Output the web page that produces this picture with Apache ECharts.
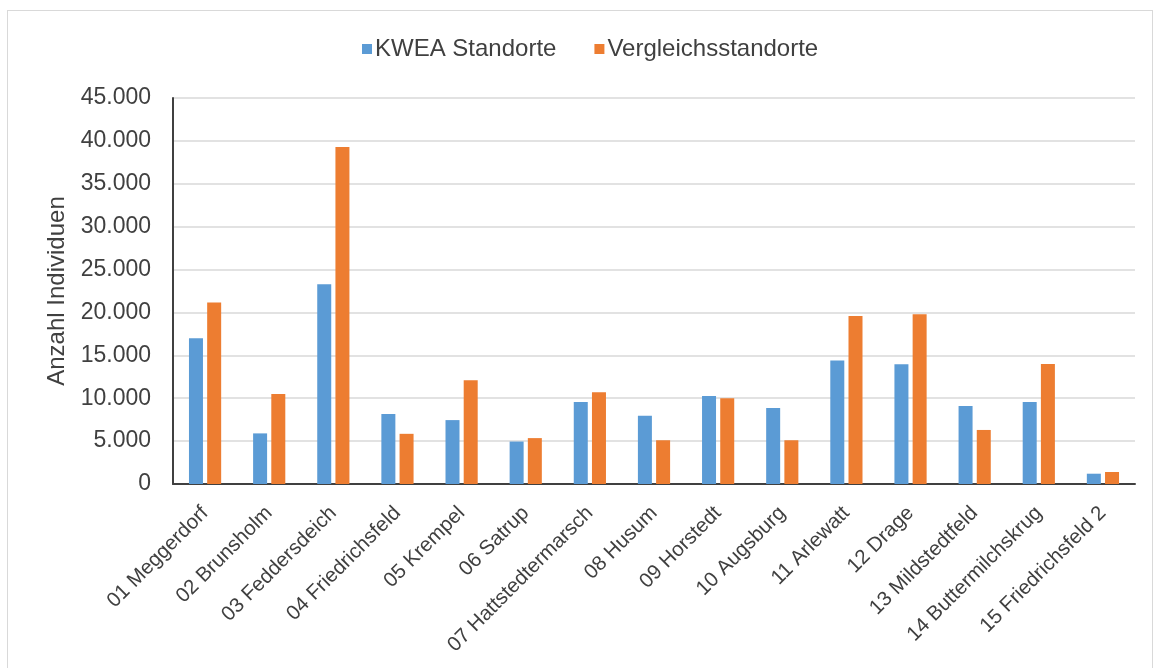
<!DOCTYPE html>
<html>
<head>
<meta charset="utf-8">
<script src="https://cdn.jsdelivr.net/npm/echarts@6/dist/echarts.min.js"></script>
<style>
  html, body { margin: 0; padding: 0; background: #fff; }
  #frame {
    position: absolute; left: 7px; top: 10px; width: 1146px; height: 660px;
    border: 1px solid #d9d9d9; box-sizing: border-box;
  }
  #chart { position: absolute; left: 0; top: 0; width: 1155px; height: 668px; }
</style>
</head>
<body>
<div id="frame"></div>
<div id="chart"></div>
<script>
// Standorte und Individuenzahlen
const standorte = [
  "01 Meggerdorf", "02 Brunsholm", "03 Feddersdeich", "04 Friedrichsfeld",
  "05 Krempel", "06 Satrup", "07 Hattstedtermarsch", "08 Husum",
  "09 Horstedt", "10 Augsburg", "11 Arlewatt", "12 Drage",
  "13 Mildstedtfeld", "14 Buttermilchskrug", "15 Friedrichsfeld 2"
];
const kwea = [17000, 5900, 23300, 8150, 7450, 4950, 9550, 7950, 10250, 8850, 14400, 13950, 9100, 9550, 1200];
const vergleich = [21150, 10500, 39300, 5850, 12100, 5350, 10700, 5100, 10000, 5100, 19600, 19800, 6300, 14000, 1400];

const myChart = echarts.init(document.getElementById("chart"));

const option = {
  backgroundColor: "transparent",
  textStyle: { fontFamily: "Liberation Sans, Arial, sans-serif" },
  legend: {
    top: 32,
    left: 357,
    itemWidth: 10,
    itemHeight: 10,
    itemGap: 38,
    icon: "rect",
    textStyle: { fontSize: 24, color: "#404040", padding: [0, 0, 0, -2] },
    data: ["KWEA Standorte", "Vergleichsstandorte"]
  },
  grid: { left: 173, right: 20, top: 98, bottom: 184 },
  xAxis: {
    type: "category",
    data: standorte,
    axisLine: { lineStyle: { color: "#404040", width: 2 } },
    axisTick: { show: false },
    axisLabel: {
      rotate: 45,
      interval: 0,
      fontSize: 20.5,
      color: "#404040",
      margin: 26
    }
  },
  yAxis: {
    type: "value",
    min: 0,
    max: 45000,
    interval: 5000,
    name: "Anzahl Individuen",
    nameLocation: "middle",
    nameGap: 103,
    nameTextStyle: { fontSize: 24, color: "#404040" },
    axisLine: { show: true, lineStyle: { color: "#404040", width: 2 } },
    axisTick: { show: false },
    splitLine: { lineStyle: { color: "#d9d9d9", width: 1.5 } },
    axisLabel: {
      fontSize: 23,
      color: "#404040",
      margin: 22,
      formatter: function (v) {
        return v.toLocaleString("de-DE");
      }
    }
  },
  series: [
    {
      name: "KWEA Standorte",
      type: "bar",
      data: kwea,
      barWidth: 14,
      barGap: "30%",
      itemStyle: { color: "#5b9bd5" }
    },
    {
      name: "Vergleichsstandorte",
      type: "bar",
      data: vergleich,
      barWidth: 14,
      itemStyle: { color: "#ed7d31" }
    }
  ]
};
myChart.setOption(option);
</script>
</body>
</html>
